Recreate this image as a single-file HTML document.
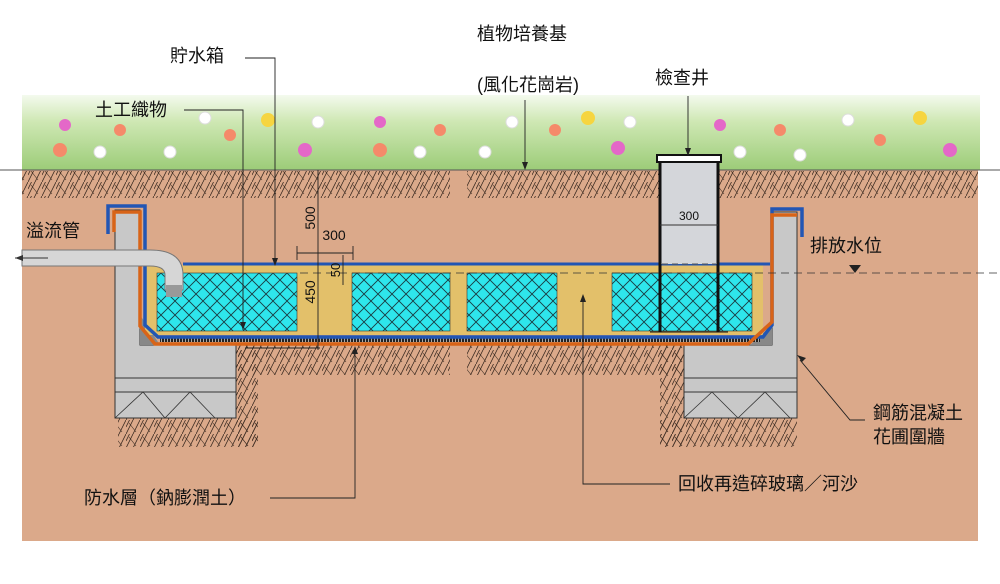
<!DOCTYPE html>
<html><head><meta charset="utf-8"><style>
body{margin:0;background:#fff}
svg{display:block}
text{font-family:"Liberation Sans","Noto Sans CJK TC",sans-serif;fill:#111}
</style></head><body>
<svg width="1000" height="584" viewBox="0 0 1000 584" xmlns="http://www.w3.org/2000/svg">
<defs>
<pattern id="hatch" width="14" height="14" patternUnits="userSpaceOnUse">
<path d="M0 14 L7 0 M7 14 L14 0 M0 7 L3.5 0" stroke="#3a2a20" stroke-width="0.8" fill="none"/>
<path d="M3 3 L10 12" stroke="#3a2a20" stroke-width="0.6"/>
</pattern>
<pattern id="mesh" width="14" height="14" patternUnits="userSpaceOnUse">
<rect width="14" height="14" fill="#2ee6ec"/>
<path d="M0 0 L14 14 M14 0 L0 14" stroke="#1a3a40" stroke-width="0.9"/>
</pattern>
<pattern id="drain" width="3" height="5" patternUnits="userSpaceOnUse">
<rect width="3" height="5" fill="#aaa"/><rect width="2" height="5" fill="#222"/>
</pattern>
<linearGradient id="grass" x1="0" y1="0" x2="0" y2="1">
<stop offset="0" stop-color="#f4faee"/><stop offset="0.35" stop-color="#cfe8b4"/><stop offset="1" stop-color="#9ccc78"/>
</linearGradient>
</defs>
<!-- grass -->
<rect x="22" y="95" width="958" height="75" fill="url(#grass)"/>
<g fill="#f58a6a">
<circle cx="60" cy="150" r="7"/><circle cx="120" cy="130" r="6"/><circle cx="230" cy="135" r="6"/><circle cx="380" cy="150" r="7"/><circle cx="440" cy="130" r="6"/><circle cx="555" cy="130" r="6"/><circle cx="780" cy="130" r="6"/><circle cx="880" cy="140" r="6"/></g>
<g fill="#e468c8"><circle cx="65" cy="125" r="6"/><circle cx="305" cy="150" r="7"/><circle cx="380" cy="122" r="6"/><circle cx="618" cy="148" r="7"/><circle cx="720" cy="125" r="6"/><circle cx="950" cy="150" r="7"/></g>
<g fill="#f6d540"><circle cx="268" cy="120" r="7"/><circle cx="588" cy="118" r="7"/><circle cx="920" cy="118" r="7"/></g>
<g fill="#fff" stroke="#ddd"><circle cx="100" cy="152" r="6"/><circle cx="170" cy="152" r="6"/><circle cx="205" cy="118" r="6"/><circle cx="318" cy="122" r="6"/><circle cx="420" cy="152" r="6"/><circle cx="512" cy="122" r="6"/><circle cx="485" cy="152" r="6"/><circle cx="630" cy="122" r="6"/><circle cx="740" cy="152" r="6"/><circle cx="800" cy="155" r="6"/><circle cx="848" cy="120" r="6"/></g>
<!-- soil -->
<rect x="22" y="170" width="956" height="371" fill="#dba98a"/>
<line x1="0" y1="170" x2="1000" y2="170" stroke="#555" stroke-width="1"/>
<rect x="22" y="171" width="428" height="27" fill="url(#hatch)"/>
<rect x="467" y="171" width="511" height="27" fill="url(#hatch)"/>
<rect x="227" y="345" width="223" height="30" fill="url(#hatch)"/>
<rect x="467" y="345" width="216" height="30" fill="url(#hatch)"/>
<rect x="236" y="345" width="22" height="102" fill="url(#hatch)"/>
<rect x="118" y="418" width="140" height="29" fill="url(#hatch)"/>
<rect x="660" y="345" width="24" height="102" fill="url(#hatch)"/>
<rect x="660" y="418" width="137" height="29" fill="url(#hatch)"/>
<!-- left wall -->
<path d="M115 210 H140 V345 H236 V418 H115 Z" fill="#c8c8c8" stroke="#333"/>
<line x1="115" y1="378" x2="236" y2="378" stroke="#333"/><line x1="115" y1="392" x2="236" y2="392" stroke="#333"/>
<path d="M115 418 L143 392 L165 418 L190 392 L215 418" fill="none" stroke="#333" stroke-width="0.8"/>
<path d="M140 315 L140 345 L160 345 Z" fill="#888"/>
<!-- right wall -->
<path d="M772 212 H797 V418 H684 V345 H772 Z" fill="#c8c8c8" stroke="#333"/>
<line x1="684" y1="378" x2="797" y2="378" stroke="#333"/><line x1="684" y1="392" x2="797" y2="392" stroke="#333"/>
<path d="M684 418 L712 392 L738 418 L765 392 L790 418" fill="none" stroke="#333" stroke-width="0.8"/>
<path d="M772 325 L772 345 L750 345 Z" fill="#888"/>
<!-- tank fill -->
<rect x="145" y="265" width="618" height="70" fill="#e3c06a"/>
<rect x="157" y="273" width="140" height="58" fill="url(#mesh)" stroke="#333" stroke-width="0.6"/>
<rect x="352" y="273" width="98" height="58" fill="url(#mesh)" stroke="#333" stroke-width="0.6"/>
<rect x="467" y="273" width="90" height="58" fill="url(#mesh)" stroke="#333" stroke-width="0.6"/>
<rect x="612" y="273" width="140" height="58" fill="url(#mesh)" stroke="#333" stroke-width="0.6"/>
<rect x="160" y="337" width="600" height="5" fill="url(#drain)"/>
<!-- membranes -->
<path d="M108 234 V206 H145 V325 L158 337 H763 L772 325 V209 H802 V237" fill="none" stroke="#2256b4" stroke-width="3.5"/>
<path d="M183 264 H770" stroke="#2256b4" stroke-width="3"/>
<path d="M114 232 V212 H140 V326 L155 344 H748 L772 322 V215 H797" fill="none" stroke="#d86418" stroke-width="3.5"/>
<!-- pipe -->
<path d="M22 250 H150 Q183 250 183 275 V290 H165 V275 Q165 266 150 266 H22 Z" fill="#d6d6d6" stroke="#777"/>
<path d="M166 285 h16 v12 h-16z" fill="#999"/>
<path d="M48 258 H15" stroke="#333"/><path d="M15 258 l8 -3 v6z" fill="#333"/>
<!-- inspection well -->
<rect x="660" y="160" width="58" height="104" fill="#d4d6da"/>
<path d="M660 160 V332 M718 160 V332" stroke="#111" stroke-width="3"/>
<line x1="650" y1="332" x2="728" y2="332" stroke="#111" stroke-width="1"/>
<rect x="657" y="155" width="64" height="7" fill="#fff" stroke="#111" stroke-width="2"/>
<line x1="660" y1="225" x2="718" y2="225" stroke="#333"/>
<text x="689" y="220" font-size="12" text-anchor="middle">300</text>
<line x1="662" y1="264" x2="716" y2="264" stroke="#555" stroke-dasharray="6,4"/>
<!-- water level -->
<line x1="300" y1="273" x2="1000" y2="273" stroke="#333" stroke-dasharray="8,5" stroke-width="0.8"/>
<path d="M849 265 h12 l-6 8z" fill="#222"/>
<!-- dimensions -->
<g stroke="#222" stroke-width="0.9" fill="none">
<line x1="318" y1="170" x2="318" y2="350"/>
<line x1="297" y1="253" x2="353" y2="253"/><line x1="297" y1="246" x2="297" y2="260"/><line x1="353" y1="246" x2="353" y2="260"/>
<line x1="343" y1="255" x2="343" y2="285"/><line x1="245" y1="348" x2="320" y2="348"/>
</g>
<text transform="translate(315 292) rotate(-90)" font-size="14" text-anchor="middle">450</text>
<text transform="translate(315 218) rotate(-90)" font-size="14" text-anchor="middle">500</text>
<text x="334" y="240" font-size="14" text-anchor="middle">300</text>
<text transform="translate(340 270) rotate(-90)" font-size="13" text-anchor="middle">50</text>
<!-- leaders -->
<g stroke="#222" stroke-width="0.9" fill="none">
<path d="M245 58 H275 V258"/><path d="M184 110 H243 V330"/>
<line x1="525" y1="100" x2="525" y2="168"/><line x1="688" y1="96" x2="688" y2="154"/>
<path d="M270 498 H355 V352"/><path d="M670 484 H583 V302"/>
<path d="M865 420 L850 420 L800 360"/>
</g>
<g fill="#222">
<path d="M272 258 l3 8 l3 -8z"/><path d="M240 322 l3 8 l3 -8z"/><path d="M522 162 l3 8 l3 -8z"/><path d="M685 148 l3 8 l3 -8z"/>
<path d="M352 354 l3 -8 l3 8z"/><path d="M580 302 l3 -8 l3 8z"/><path d="M797 355 l9 3 l-4 4z"/>
</g>
<!-- labels -->
<g font-size="18">
<text x="170" y="62">貯水箱</text>
<text x="95" y="116">土工織物</text>
<text x="477" y="40">植物培養基</text>
<text x="477" y="91">(風化花崗岩)</text>
<text x="655" y="84">檢查井</text>
<text x="26" y="237">溢流管</text>
<text x="810" y="252">排放水位</text>
<text x="873" y="419">鋼筋混凝土</text>
<text x="873" y="443">花圃圍牆</text>
<text x="678" y="490">回收再造碎玻璃／河沙</text>
<text x="84" y="504">防水層（鈉膨潤土）</text>
</g>
</svg>
</body></html>
